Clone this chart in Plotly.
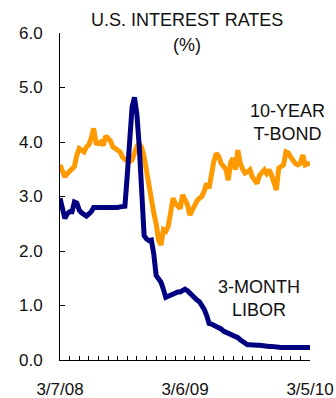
import plotly.graph_objects as go

# Weekly observations, Friday 3/7/08 through Friday 3/5/10 (105 weeks)
week = list(range(105))

tbond_10y = [
    3.58, 3.45, 3.36, 3.42, 3.46, 3.49, 3.55, 3.76, 3.88, 3.85,
    3.82, 3.91, 3.95, 4.07, 4.25, 3.98, 3.97, 4.00, 3.94, 4.11,
    4.06, 4.02, 3.91, 3.87, 3.85, 3.82, 3.72, 3.67, 3.65, 3.64,
    3.67, 3.80, 3.92, 3.97, 3.90, 3.73, 3.45, 3.22, 2.87, 2.70,
    2.50, 2.20, 2.11, 2.39, 2.36, 2.45, 2.70, 2.97, 2.87, 2.82,
    2.78, 3.03, 2.92, 2.85, 2.66, 2.75, 2.87, 2.92, 2.97, 3.00,
    3.10, 3.24, 3.15, 3.42, 3.65, 3.79, 3.74, 3.61, 3.57, 3.50,
    3.30, 3.63, 3.70, 3.49, 3.85, 3.61, 3.50, 3.43, 3.45, 3.49,
    3.36, 3.30, 3.24, 3.39, 3.45, 3.49, 3.42, 3.49, 3.39, 3.25,
    3.12, 3.52, 3.55, 3.58, 3.82, 3.80, 3.72, 3.64, 3.60, 3.58,
    3.61, 3.76, 3.58, 3.60, 3.61,
]

libor_3m = [
    2.97, 2.75, 2.60, 2.68, 2.72, 2.72, 2.90, 2.88, 2.75, 2.70,
    2.68, 2.64, 2.68, 2.72, 2.80, 2.80, 2.78, 2.78, 2.78, 2.78,
    2.78, 2.79, 2.79, 2.80, 2.80, 2.81, 2.81, 2.82, 3.40, 4.10,
    4.65, 4.82, 4.50, 3.90, 3.10, 2.28, 2.22, 2.19, 2.20, 1.95,
    1.55, 1.48, 1.43, 1.30, 1.15, 1.17, 1.19, 1.22, 1.24, 1.25,
    1.25, 1.27, 1.30, 1.27, 1.22, 1.17, 1.13, 1.10, 1.07, 1.01,
    0.93, 0.82, 0.67, 0.66, 0.64, 0.62, 0.60, 0.57, 0.53, 0.51,
    0.50, 0.49, 0.47, 0.44, 0.41, 0.37, 0.33, 0.30, 0.28, 0.28,
    0.27, 0.27, 0.27, 0.27, 0.26, 0.26, 0.26, 0.25, 0.25, 0.24,
    0.23, 0.23, 0.23, 0.23, 0.23, 0.23, 0.23, 0.23, 0.23, 0.23,
    0.23, 0.23, 0.23, 0.23, 0.23,
]

date_tick_pos = [0, 52, 104]
date_tick_text = ["3/7/08", "3/6/09", "3/5/10"]

FONT = "Liberation Sans, Arial, sans-serif"
NAVY = "#000080"
ORANGE = "#FF9900"
INK = "#111111"

fig = go.Figure()
fig.add_trace(go.Scatter(x=week, y=tbond_10y, mode="lines",
                         line=dict(color=ORANGE, width=5), name="10-Year T-Bond"))
fig.add_trace(go.Scatter(x=week, y=libor_3m, mode="lines",
                         line=dict(color=NAVY, width=5), name="3-Month LIBOR"))

fig.update_layout(
    width=336, height=398,
    margin=dict(l=60, r=26, t=33, b=38),
    paper_bgcolor="white", plot_bgcolor="white",
    showlegend=False,
    font=dict(family=FONT, size=17, color=INK),
    xaxis=dict(
        range=[0, 104], showgrid=False, zeroline=False, automargin=False,
        showline=True, linecolor="black", linewidth=1,
        tickmode="array", tickvals=date_tick_pos, ticktext=date_tick_text,
        ticks="inside", ticklen=4, tickcolor="black",
        ticklabelstandoff=14,
        minor=dict(tick0=0, dtick=4, ticks="inside", ticklen=4, tickcolor="black"),
    ),
    yaxis=dict(
        range=[0, 6], dtick=1, tickformat=".1f", showgrid=False, zeroline=False,
        automargin=False,
        showline=True, linecolor="black", linewidth=1,
        ticks="inside", ticklen=5, tickcolor="black",
        ticklabelstandoff=13,
    ),
    annotations=[
        dict(text="U.S. INTEREST RATES", xref="paper", yref="paper",
             x=0.506, y=1.0407, xanchor="center", yanchor="middle",
             showarrow=False, font=dict(size=18)),
        dict(text="(%)", xref="paper", yref="paper",
             x=0.508, y=0.9618, xanchor="center", yanchor="middle",
             showarrow=False, font=dict(size=18)),
        dict(text="10-YEAR<br>T-BOND", x=94.6, y=4.35,
             xanchor="center", yanchor="middle", showarrow=False,
             font=dict(size=18)),
        dict(text="3-MONTH<br>LIBOR", x=82.7, y=1.12,
             xanchor="center", yanchor="middle", showarrow=False,
             font=dict(size=18)),
    ],
)

fig.write_html("out.html")
